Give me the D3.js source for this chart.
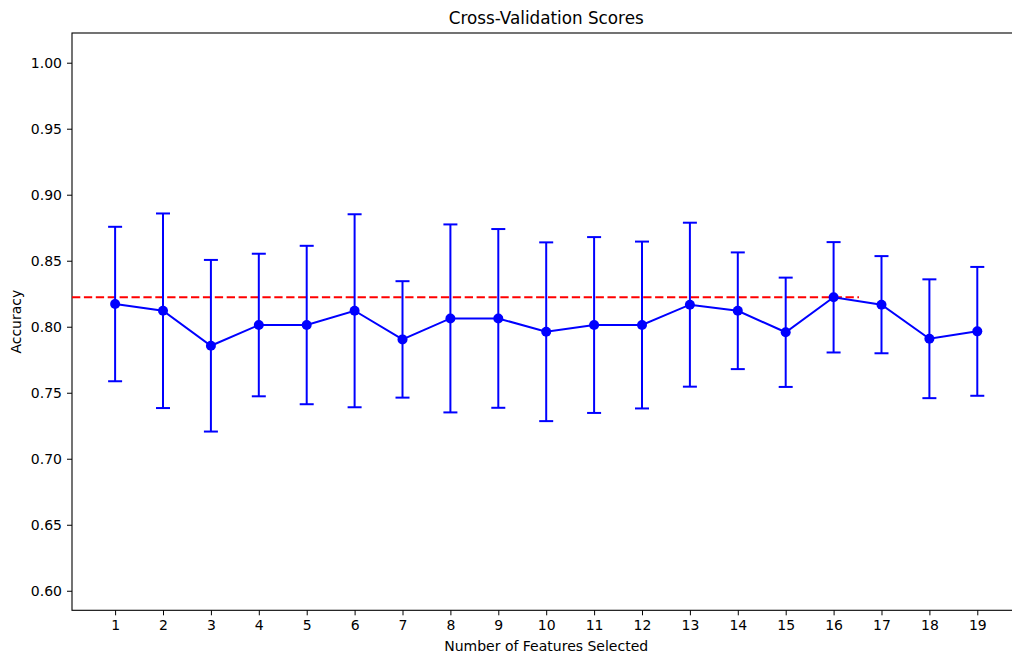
<!DOCTYPE html>
<html lang="en">
<head>
    <meta charset="UTF-8">
    <title>Cross-Validation Scores</title>
    <script src="https://d3js.org/d3.v7.min.js"></script>
    <style>
        body { margin: 0; background: #fff; overflow: hidden; }
        svg text { font-family: "DejaVu Sans", sans-serif; fill: #000; }
    </style>
</head>
<body>
<svg width="1012" height="658"></svg>
<script>
    // values
    var features = [1, 2, 3, 4, 5, 6, 7, 8, 9, 10, 11, 12, 13, 14, 15, 16, 17, 18, 19];
    var meanScores = [0.8172, 0.8121, 0.7856, 0.8013, 0.8013, 0.8121, 0.7904, 0.8063, 0.8063, 0.7962,
                      0.8013, 0.8013, 0.8167, 0.8121, 0.7958, 0.8223, 0.8167, 0.7909, 0.7965];
    var stdScores = [0.0585, 0.0737, 0.0650, 0.0540, 0.0600, 0.0731, 0.0441, 0.0712, 0.0677, 0.0677,
                     0.0666, 0.0632, 0.0621, 0.0442, 0.0414, 0.0418, 0.0368, 0.0450, 0.0488];
    var yTicks = [0.60, 0.65, 0.70, 0.75, 0.80, 0.85, 0.90, 0.95, 1.00];
    var refLineEnd = 16.53;   // dashed line stops short of the last points

    var svg = d3.select("svg");
    var mLeft = 72, mRight = 1020.4, mTop = 33, mBottom = 610.3;

    var x = d3.scaleLinear().domain([0.1, 19.9]).range([mLeft, mRight]);
    var y = d3.scaleLinear().domain([0.5852, 1.0225]).range([mBottom, mTop]);

    var data = features.map(function (f, i) {
        return {f: f, m: meanScores[i], s: stdScores[i]};
    });
    var best = d3.max(meanScores);

    // axes
    svg.append("g")
        .attr("transform", "translate(0," + mBottom + ")")
        .call(d3.axisBottom(x).tickValues(features).tickSize(5).tickPadding(5).tickFormat(d3.format("d")))
        .call(function (g) {
            g.select(".domain").remove();
            g.selectAll("text").attr("font-size", "14px").attr("fill", "#000");
            g.selectAll("line").attr("stroke", "#000");
        });

    svg.append("g")
        .attr("transform", "translate(" + mLeft + ",0)")
        .call(d3.axisLeft(y).tickValues(yTicks).tickSize(5).tickPadding(5).tickFormat(d3.format(".2f")))
        .call(function (g) {
            g.select(".domain").remove();
            g.selectAll("text").attr("font-size", "14px").attr("fill", "#000");
            g.selectAll("line").attr("stroke", "#000");
        });

    // spines
    svg.append("rect")
        .attr("x", mLeft).attr("y", mTop)
        .attr("width", mRight - mLeft).attr("height", mBottom - mTop)
        .attr("fill", "none").attr("stroke", "#000").attr("stroke-width", 1.1);

    var plot = svg.append("g");

    // reference line at the best mean
    plot.append("line")
        .attr("x1", x(0.1)).attr("x2", x(refLineEnd))
        .attr("y1", y(best)).attr("y2", y(best))
        .attr("stroke", "red").attr("stroke-width", 2)
        .attr("stroke-dasharray", "8.3,3.6");

    // error bars
    var bars = plot.selectAll(".err").data(data).enter().append("g").attr("class", "err");
    bars.append("line")
        .attr("x1", function (d) { return x(d.f); })
        .attr("x2", function (d) { return x(d.f); })
        .attr("y1", function (d) { return y(d.m - d.s); })
        .attr("y2", function (d) { return y(d.m + d.s); })
        .attr("stroke", "blue").attr("stroke-width", 2);
    [-1, 1].forEach(function (sign) {
        bars.append("line")
            .attr("x1", function (d) { return x(d.f) - 7; })
            .attr("x2", function (d) { return x(d.f) + 7; })
            .attr("y1", function (d) { return y(d.m + sign * d.s); })
            .attr("y2", function (d) { return y(d.m + sign * d.s); })
            .attr("stroke", "blue").attr("stroke-width", 2);
    });

    // mean line + markers
    plot.append("path")
        .datum(data)
        .attr("fill", "none").attr("stroke", "blue").attr("stroke-width", 2)
        .attr("d", d3.line().x(function (d) { return x(d.f); }).y(function (d) { return y(d.m); }));

    plot.selectAll(".pt").data(data).enter().append("circle")
        .attr("class", "pt")
        .attr("cx", function (d) { return x(d.f); })
        .attr("cy", function (d) { return y(d.m); })
        .attr("r", 5)
        .attr("fill", "blue");

    // labels
    svg.append("text")
        .attr("x", (mLeft + mRight) / 2).attr("y", 24)
        .attr("text-anchor", "middle").attr("font-size", "16.8px")
        .text("Cross-Validation Scores");

    svg.append("text")
        .attr("x", (mLeft + mRight) / 2).attr("y", 651)
        .attr("text-anchor", "middle").attr("font-size", "14px")
        .text("Number of Features Selected");

    svg.append("text")
        .attr("transform", "translate(21," + (mTop + mBottom) / 2 + ") rotate(-90)")
        .attr("text-anchor", "middle").attr("font-size", "14px")
        .text("Accuracy");
</script>
</body>
</html>
